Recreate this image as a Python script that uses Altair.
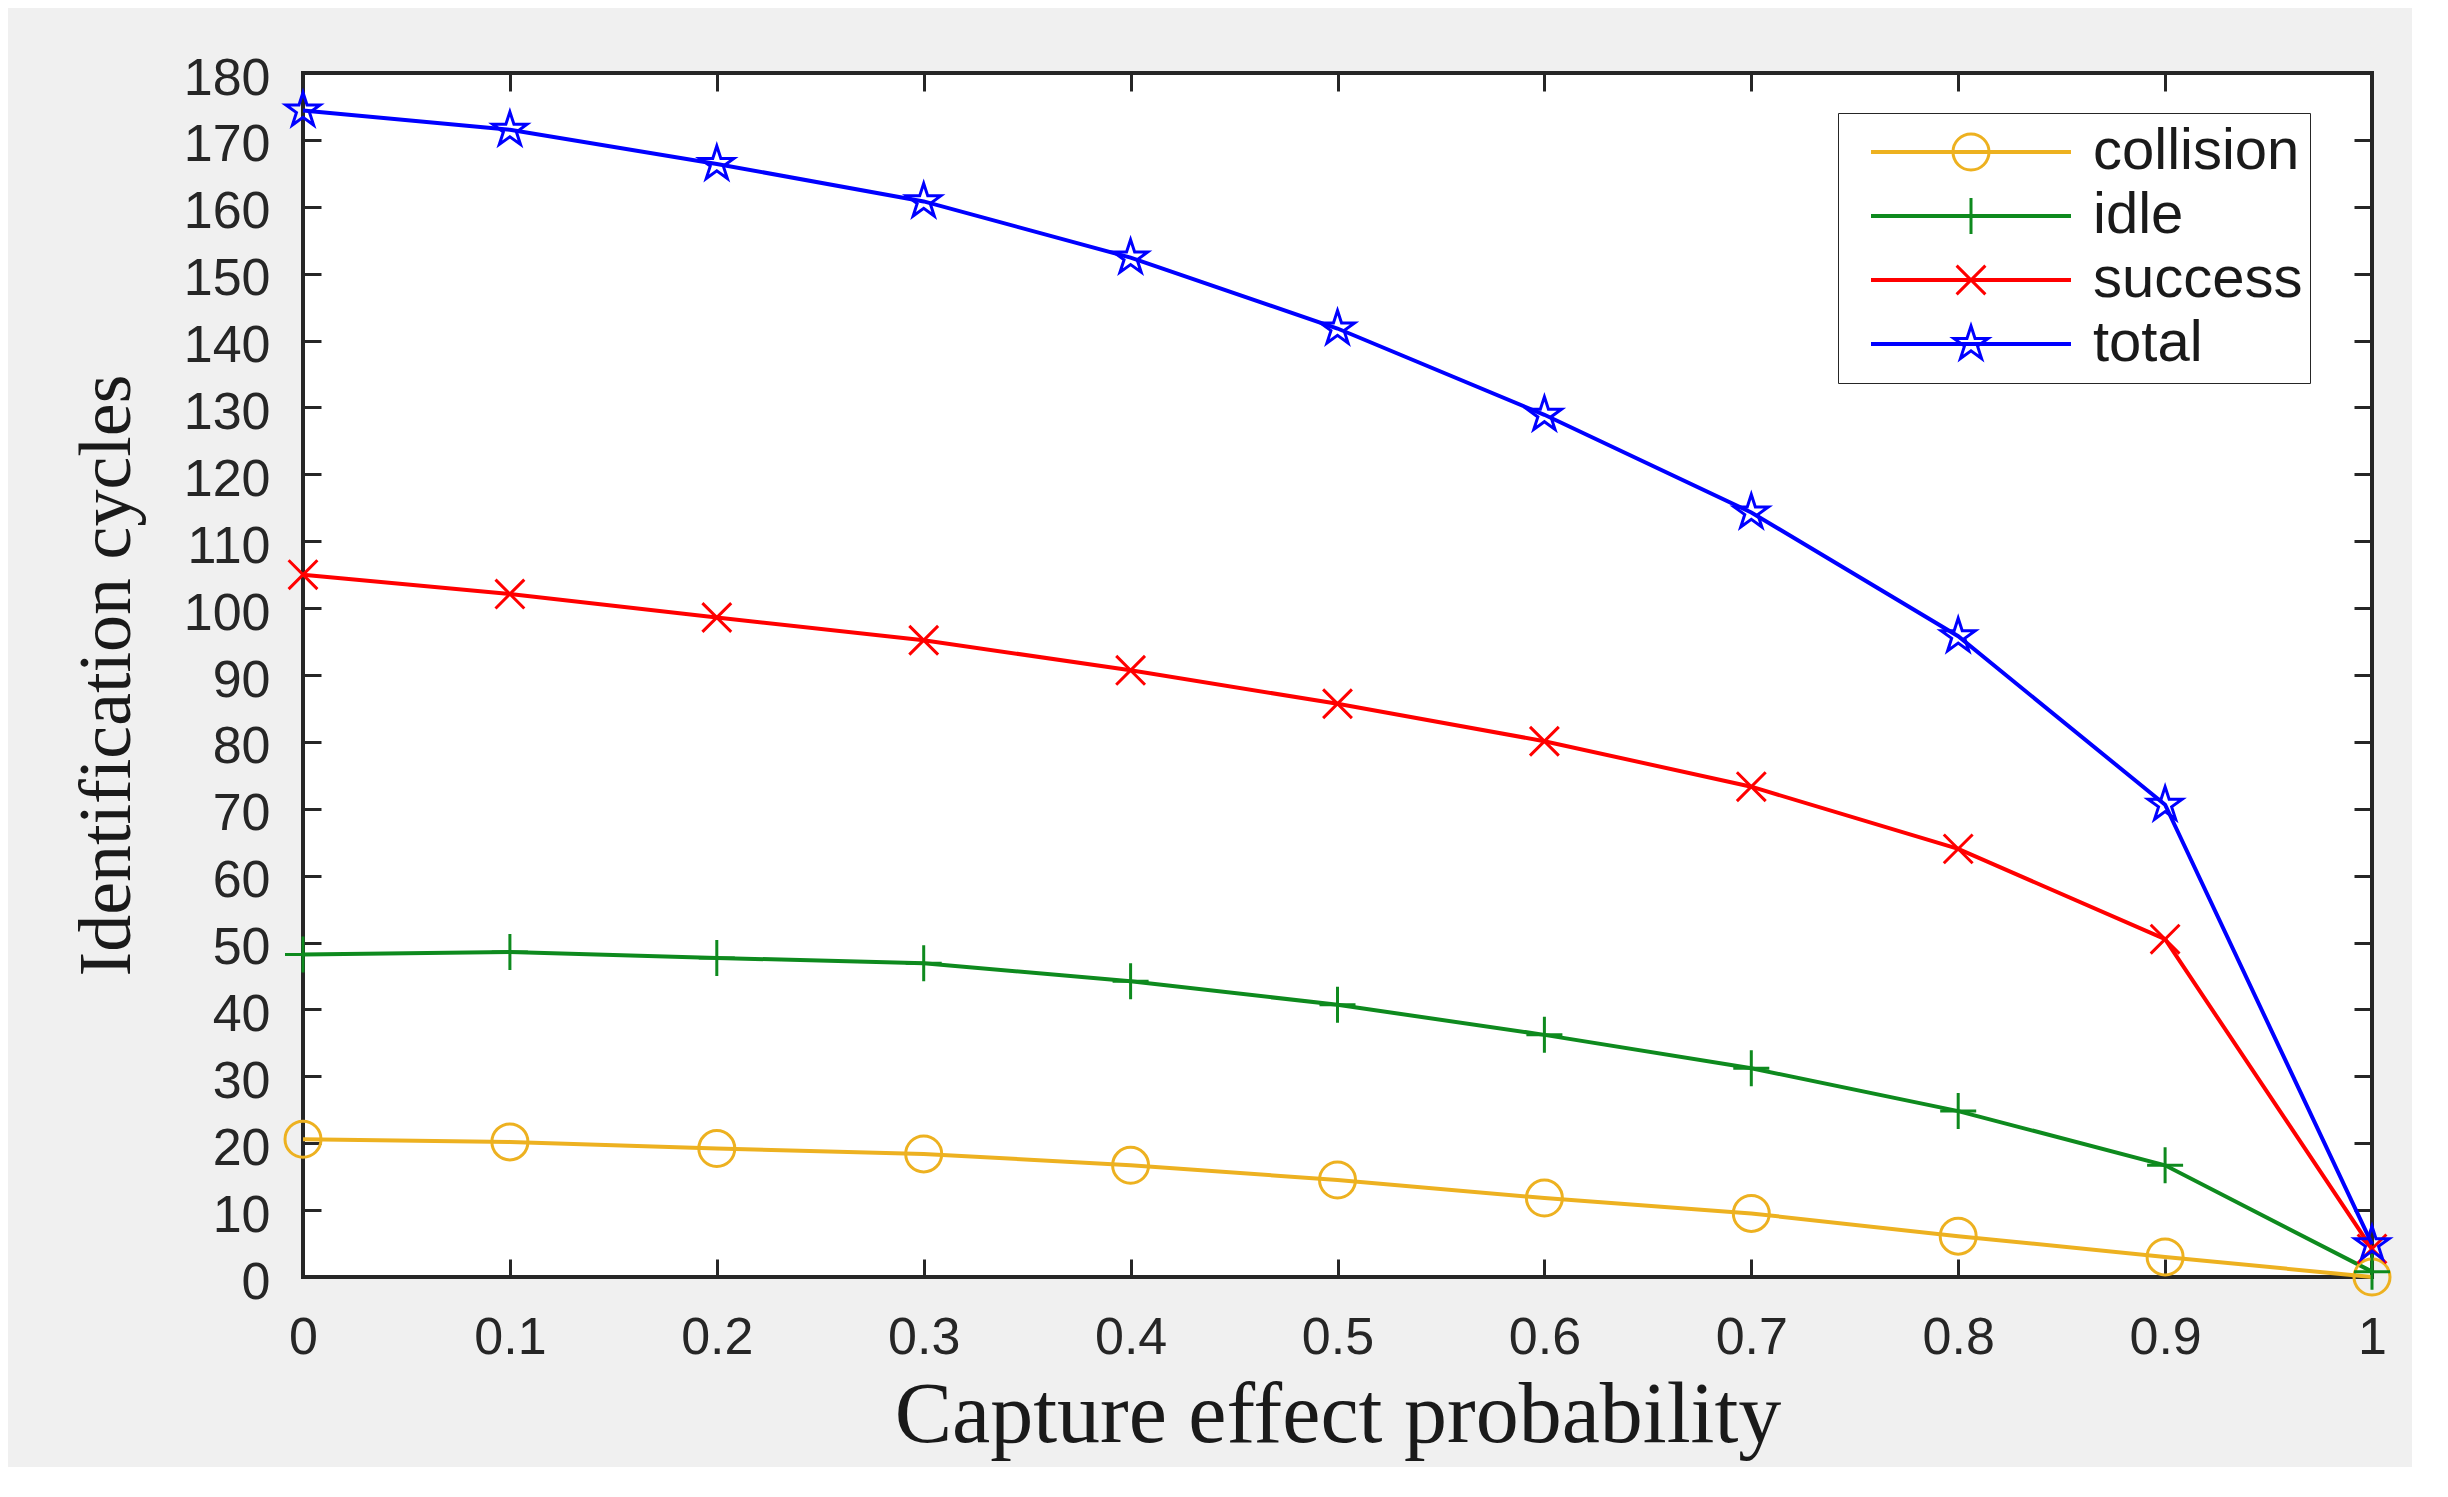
import altair as alt
import pandas as pd

# ---------------- data ----------------
x_vals = [0.0, 0.1, 0.2, 0.3, 0.4, 0.5, 0.6, 0.7, 0.8, 0.9, 1.0]
collision = [20.6, 20.2, 19.2, 18.4, 16.7, 14.5, 11.8, 9.5, 6.1, 3.0, 0.0]
idle = [48.2, 48.6, 47.7, 46.9, 44.2, 40.7, 36.2, 31.2, 24.8, 16.7, 0.8]
success = [105.0, 102.1, 98.6, 95.2, 90.7, 85.7, 80.1, 73.3, 64.0, 50.5, 4.2]
total = [174.4, 171.5, 166.4, 160.8, 152.4, 141.8, 128.9, 114.3, 95.8, 70.6, 4.9]

series_names = ["collision", "idle", "success", "total"]
series_colors = ["#EDB120", "#0E8A1E", "#FF0000", "#0000FF"]
x_ticks = [0.0, 0.1, 0.2, 0.3, 0.4, 0.5, 0.6, 0.7, 0.8, 0.9, 1.0]
y_ticks = [0, 10, 20, 30, 40, 50, 60, 70, 80, 90, 100, 110, 120, 130, 140, 150, 160, 170, 180]

# keys for the marker legend (kept distinct so it is not merged with the line legend)
marker_keys = [n + " marker" for n in series_names]

rows = []
for name, key, vals in zip(series_names, marker_keys, [collision, idle, success, total]):
    for xv, yv in zip(x_vals, vals):
        rows.append({"p": xv, "cycles": yv, "series": name, "marker": key})
df = pd.DataFrame(rows)

# ---------------- marker styles ----------------
STAR = ("M0,-1L0.2245,-0.309L0.951,-0.309L0.363,0.118L0.588,0.809L0,0.382"
        "L-0.588,0.809L-0.363,0.118L-0.951,-0.309L-0.2245,-0.309Z")
marker_paths = [
    "circle",
    "M-1,0L1,0M0,-1L0,1",
    "M-0.8,-0.8L0.8,0.8M-0.8,0.8L0.8,-0.8",
    STAR,
]

AX = "#262626"
TICK = 18
MARKER_SIZE = 1296

x_scale = alt.Scale(domain=[0, 1], nice=False, zero=False)
y_scale = alt.Scale(domain=[0, 180], nice=False, zero=False)
line_color_scale = alt.Scale(domain=series_names, range=series_colors)
marker_color_scale = alt.Scale(domain=marker_keys, range=series_colors)
shape_scale = alt.Scale(domain=marker_keys, range=marker_paths)

x_axis_bottom = alt.Axis(
    orient="bottom", values=x_ticks, format="~g", offset=-TICK, tickSize=TICK,
    tickWidth=3, tickColor=AX, domain=False, grid=False, labelFlush=False,
    labelOverlap=False, labelFont="Liberation Sans", labelFontSize=52,
    labelColor=AX, labelPadding=35, title="Capture effect probability",
    titleFont="Liberation Serif", titleFontSize=86, titleFontWeight="normal",
    titleColor="#1a1a1a", titlePadding=10,
)
y_axis_left = alt.Axis(
    orient="left", values=y_ticks, format="d", offset=-TICK, tickSize=TICK,
    tickWidth=3, tickColor=AX, domain=False, grid=False, labelFlush=False,
    labelOverlap=False, labelFont="Liberation Sans", labelFontSize=52,
    labelColor=AX, labelPadding=33, labelOffset=5, title="Identification cycles",
    titleFont="Liberation Serif", titleFontSize=74, titleFontWeight="normal",
    titleColor="#1a1a1a", titlePadding=38,
)
x_axis_top = alt.Axis(
    orient="top", values=x_ticks, offset=-TICK, tickSize=TICK, tickWidth=3,
    tickColor=AX, domain=False, grid=False, labels=False, title=None,
)
y_axis_right = alt.Axis(
    orient="right", values=y_ticks, offset=-TICK, tickSize=TICK, tickWidth=3,
    tickColor=AX, domain=False, grid=False, labels=False, title=None,
)

LEG_X, LEG_Y, LEG_PAD, ROW_H = 1535, 40, 7, 64

# legend of the line segments (with the labels and the box)
legend_lines = alt.Legend(
    title=None, orient="none", legendX=LEG_X, legendY=LEG_Y, padding=LEG_PAD,
    symbolType="stroke", symbolSize=40000, symbolStrokeWidth=4, symbolOpacity=1,
    symbolOffset=24, labelOffset=20, clipHeight=ROW_H, rowPadding=0,
    labelFontSize=58, labelFont="Liberation Sans", labelColor="#1a1a1a",
    labelLimit=600, strokeColor=AX, fillColor="white", zindex=1,
)
# legend of the markers (overlaid on the line segments, no text of its own)
legend_marks = alt.Legend(
    title=None, orient="none", legendX=LEG_X, legendY=LEG_Y, padding=LEG_PAD,
    symbolSize=MARKER_SIZE, symbolStrokeWidth=3, symbolOpacity=1,
    symbolOffset=99, clipHeight=ROW_H, rowPadding=0, labelFontSize=54,
    labelFont="Liberation Sans", labelExpr="''", zindex=2,
)

lines = alt.Chart(df).mark_line(strokeWidth=4).encode(
    x=alt.X("p:Q", scale=x_scale, axis=x_axis_bottom),
    y=alt.Y("cycles:Q", scale=y_scale, axis=y_axis_left),
    stroke=alt.Stroke("series:N", scale=line_color_scale, legend=legend_lines),
)

points = alt.Chart(df).mark_point(filled=False, size=MARKER_SIZE, strokeWidth=3, opacity=1).encode(
    x=alt.X("p:Q", scale=x_scale, axis=x_axis_top),
    y=alt.Y("cycles:Q", scale=y_scale, axis=y_axis_right),
    color=alt.Color("marker:N", scale=marker_color_scale, legend=legend_marks),
    shape=alt.Shape("marker:N", scale=shape_scale, legend=legend_marks),
)

chart = (
    alt.layer(lines, points)
    .resolve_axis(x="independent", y="independent")
    .properties(
        width=2069, height=1204,
        padding={"left": 295, "top": 65, "right": 40, "bottom": 190},
        autosize=alt.AutoSizeParams(type="none"),
        background="#F0F0F0",
    )
    .configure_view(stroke=AX, strokeWidth=4, fill="white")
)

chart.save("out.html", embed_options={"renderer": "svg", "actions": False})
